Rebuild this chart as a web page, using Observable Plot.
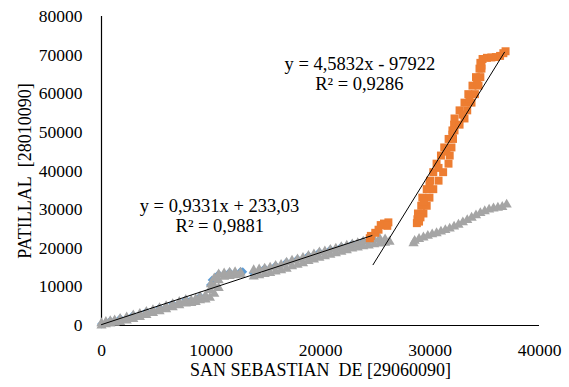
<!DOCTYPE html>
<html><head><meta charset="utf-8">
<script src="https://cdn.jsdelivr.net/npm/d3@7"></script>
<script src="https://cdn.jsdelivr.net/npm/@observablehq/plot@0.6"></script>
<style>
html,body{margin:0;padding:0;background:#fff;}
#chart{width:569px;height:387px;}
svg, svg g, svg text{font-family:'Liberation Serif','Times New Roman',serif !important;font-variant:normal !important;font-variant-numeric:normal !important;}
</style></head><body><div id="chart"></div>
<script>
const xTicks = [0, 10000, 20000, 30000, 40000];
const yTicks = [0, 10000, 20000, 30000, 40000, 50000, 60000, 70000, 80000];
const xTitle = "SAN SEBASTIAN\u00a0 DE [29060090]";
const yTitle = "PATILLAL\u00a0 [28010090]";

// Series 1 (blue diamonds)
const blueX = [0,800,1700,2900,4100,5300,6500,7700,8100,9000,9950,10100,10700,11700,12700,12900,13850,14900,15900,16900,17900,18900,19900,20900,21900,22900,23900,24400];
const blueY = [400,1200,1800,2700,3600,4600,5600,6700,6300,7500,10500,11800,13300,13800,14000,13900,13600,14800,15500,16400,17200,18100,19000,19700,20400,21100,21800,22000];

// Series 2 (orange squares)
const orangeX = [24500,24600,25000,25300,25500,25800,26200,26100,
  28800,28850,28900,29200,29300,29700,30000,30300,30600,31000,31300,31700,32050,32200,32240,32700,33150,33500,33880,34200,34520,34600,
  29000,29400,29700,29950,30300,30780,31200,31690,31800,31960,32100,32240,32700,33150,33400,33790,34100,34430,34600,34700,
  29130,29450,29950,30780,31500,32050,32970,33600,34300,34700,
  34800,35200,35600,36000,36400,36700,36900];
const orangeY = [22600,23200,24000,24800,26000,26400,26700,25800,
  26500,27500,29000,31000,33100,35300,37500,39700,41900,44000,46100,48300,50500,52000,53600,55700,57700,59900,62100,64300,66500,68000,
  26900,29000,31000,33100,35300,37500,39700,41900,44000,46100,48300,50500,52000,53600,55700,57700,59900,62100,64300,66500,
  28000,32000,36400,40800,45000,49400,54600,58800,63200,67300,
  69000,69300,69400,69500,69800,70500,71000];

// Series 3 (gray triangles)
const grayX = [0,0,400,400,800,800,1200,1200,1700,1700,2300,2300,2900,2900,3500,3500,4100,4100,4700,4700,5300,5300,5900,5900,6500,6500,7100,7100,7700,7700,8200,8200,8600,8600,9000,9000,9500,9500,9900,9900,10000,10300,10300,10300,10700,10700,10700,11200,11200,11700,11700,12200,12200,12700,12700,
  13900,13900,14400,14400,14900,14900,15400,15400,15900,15900,16400,16400,16900,16900,17400,17400,17900,17900,18400,18400,18900,18900,19400,19400,19900,19900,20400,20400,20900,20900,21400,21400,21900,21900,22400,22400,22900,22900,23400,23400,23900,23900,24400,24400,24900,24900,25400,25400,25900,25900,26300,
  28500,28600,29000,29400,29800,30200,30600,31000,31400,31800,32200,32600,33000,33400,33800,34200,34600,35000,35400,35800,36200,36600,37000];
const grayY = [0,600,300,900,500,1100,700,1300,900,1700,1300,2100,1700,2600,2200,3000,2700,3500,3200,4000,3700,4500,4200,5000,4700,5500,5200,6100,5700,6600,5800,6400,6100,6800,6500,7400,6700,7700,7200,9200,10700,8200,10200,12200,9700,11700,13200,12600,13500,12800,13700,13000,13800,13100,13700,
  12700,14300,13000,14500,13300,14700,13600,15000,14000,15400,14300,15700,14700,16300,15300,16800,15700,17100,16100,17500,16700,18000,17100,18400,17500,18900,17900,19200,18300,19600,18700,19900,19100,20300,19500,20700,19900,21000,20200,21300,20500,21700,20700,21900,21000,22200,21200,22500,21400,22300,21700,
  21300,21900,22400,22800,23200,23600,23900,24300,24700,25100,25600,26100,26700,27300,27900,28500,29100,29600,30000,30300,30500,30700,31300];

// Linear trend lines (from the equations shown)
const trendSlope = [0.9331, 4.5832];
const trendIntercept = [233.03, -97922];
const trendXFrom = [0, 24800];
const trendXTo = [24700, 36800];
const trendEq = ["y = 0,9331x + 233,03", "y = 4,5832x - 97922"];
const trendR2 = ["R² = 0,9881", "R² = 0,9286"];

// label placement (layout)
const eqAt = [[10780, 31000], [23600, 67800]];
const r2At = [[10800, 25800], [23550, 62600]];

const pts = (xs, ys) => xs.map((x, i) => ({x, y: ys[i]}));
const blue = pts(blueX, blueY), orange = pts(orangeX, orangeY), gray = pts(grayX, grayY);
const trendLines = trendSlope.flatMap((m, i) => [trendXFrom[i], trendXTo[i]].map(x => ({i, x, y: m * x + trendIntercept[i]})));

const serif = "'Liberation Serif', 'Times New Roman', serif";
const chart = Plot.plot({
  width: 569, height: 387,
  marginLeft: 101, marginRight: 30, marginTop: 16, marginBottom: 62,
  style: {fontFamily: serif, fontSize: "17.5px", color: "#000", background: "#fff"},
  x: {domain: [0, 40000]},
  y: {domain: [0, 80000]},
  marks: [
    Plot.axisX({ticks: xTicks, tickSize: 0, tickPadding: 18, tickFormat: d3.format("d"), label: null, fontFamily: serif, fontSize: 17.5, fill: "#000"}),
    Plot.axisY({ticks: yTicks, tickSize: 0, tickPadding: 19, tickFormat: d3.format("d"), label: null, fontFamily: serif, fontSize: 17.5, fill: "#000"}),
    Plot.ruleY([0], {x1: 0, x2: 40000, stroke: "#000", strokeWidth: 1.2}),
    Plot.ruleX([0], {y1: 0, y2: 80000, stroke: "#000", strokeWidth: 1.2}),
    Plot.dot(blue, {x: "x", y: "y", symbol: "diamond2", r: 4, fill: "#5B9BD5"}),
    Plot.dot(gray, {x: "x", y: "y", symbol: "triangle", r: 3.8, fill: "#A5A5A5"}),
    Plot.dot(orange, {x: "x", y: "y", symbol: "square", r: 4.5, fill: "#ED7D31"}),
    Plot.line(trendLines, {x: "x", y: "y", z: "i", stroke: "#000", strokeWidth: 1}),
    Plot.text(trendEq, {x: (d, i) => eqAt[i][0], y: (d, i) => eqAt[i][1], text: d => d, fontSize: 18.5, fontFamily: serif, fill: "#000"}),
    Plot.text(trendR2, {x: (d, i) => r2At[i][0], y: (d, i) => r2At[i][1], text: d => d, fontSize: 18.5, fontFamily: serif, fill: "#000"}),
    Plot.text([xTitle], {frameAnchor: "bottom", lineAnchor: "middle", textAnchor: "middle", dy: 45, fontSize: 18, fontFamily: serif, fill: "#000"}),
    Plot.text([yTitle], {frameAnchor: "left", lineAnchor: "middle", textAnchor: "middle", dx: -76, rotate: -90, fontSize: 18, fontFamily: serif, fill: "#000"})
  ]
});
document.getElementById("chart").append(chart);
</script></body></html>
